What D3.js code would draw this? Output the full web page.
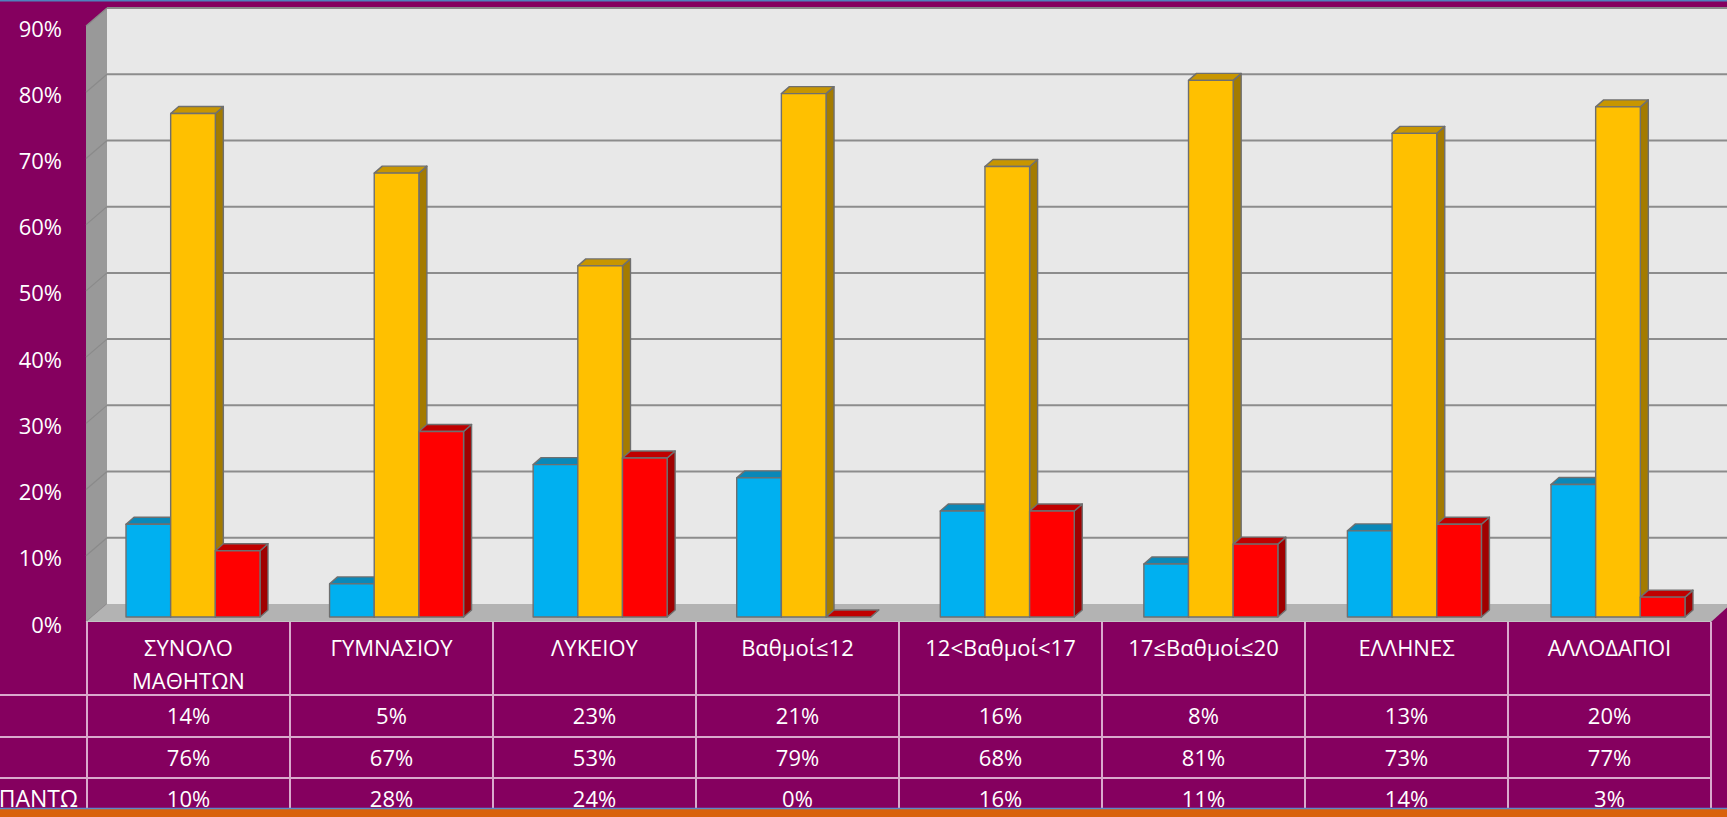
<!DOCTYPE html>
<html><head><meta charset="utf-8">
<script src="https://cdn.jsdelivr.net/npm/d3@7"></script>
<style>body{margin:0;background:#85005f;overflow:hidden}svg{display:block}</style>
</head><body><svg id="c" width="1727" height="817"></svg>
<script>
const categories = ["ΣΥΝΟΛΟ\nΜΑΘΗΤΩΝ","ΓΥΜΝΑΣΙΟΥ","ΛΥΚΕΙΟΥ","Βαθμοί≤12","12<Βαθμοί<17","17≤Βαθμοί≤20","ΕΛΛΗΝΕΣ","ΑΛΛΟΔΑΠΟΙ"];
const seriesKeys = ["s1","s2","s3"];
const seriesLabels = ["","","ΠΑΝΤΩ"];
const series1 = [14,5,23,21,16,8,13,20];
const series2 = [76,67,53,79,68,81,73,77];
const series3 = [10,28,24,0,16,11,14,3];
const yTicks = [0,10,20,30,40,50,60,70,80,90];

const seriesValues = [series1, series2, series3];
const colors = {
  s1:{front:"#00b0f0", top:"#0a88b8", side:"#0078a6"},
  s2:{front:"#ffc000", top:"#c89600", side:"#a47b00"},
  s3:{front:"#ff0000", top:"#c00000", side:"#a00000"}
};
const FONT = "'Open Sans','Noto Sans','DejaVu Sans',sans-serif";
const FS = "22px";
const svg = d3.select("#c");

// geometry
const backL = 107, sideL = 86, right = 1727;
const yBack = d3.scaleLinear().domain([0,90]).range([604,8]);
const yFront = d3.scaleLinear().domain([0,90]).range([622,26]);
const yBar = d3.scaleLinear().domain([0,90]).range([617,617-0.9*662.5]);
const barBase = 617, dx = 8, dy = 7;

// top strip
svg.append("line").attr("x1",0).attr("x2",right).attr("y1",0.75).attr("y2",0.75).attr("stroke","#4f81bd").attr("stroke-width",1.5);

// back wall
svg.append("rect").attr("x",backL).attr("y",yBack(90)).attr("width",right-backL).attr("height",yBack(0)-yBack(90)).attr("fill","#e8e8e8");
// side wall
svg.append("polygon").attr("points",[[sideL,yFront(90)],[backL,yBack(90)],[backL,yBack(0)],[sideL,yFront(0)]].map(p=>p.join(",")).join(" ")).attr("fill","#999999");
// side grid
svg.append("g").selectAll("line").data(yTicks).join("line")
  .attr("x1",sideL).attr("x2",backL).attr("y1",d=>yFront(d)).attr("y2",d=>yBack(d))
  .attr("stroke","#8a8a8a").attr("stroke-width",1.2);
// back grid
svg.append("g").selectAll("line").data(yTicks.filter(d=>d>0)).join("line")
  .attr("x1",backL).attr("x2",right).attr("y1",d=>yBack(d)).attr("y2",d=>yBack(d))
  .attr("stroke","#8c8c8c").attr("stroke-width",2);
// floor
svg.append("polygon").attr("points",[[backL,604],[right+4,604],[1711,622],[sideL,622]].map(p=>p.join(",")).join(" ")).attr("fill","#b3b3b3");
svg.append("line").attr("x1",sideL).attr("x2",1711).attr("y1",621.5).attr("y2",621.5).attr("stroke","#c4c4c4").attr("stroke-width",1);

// y axis labels
const yAxis = d3.axisLeft(yFront).tickValues(yTicks).tickFormat(d=>d+"%").tickSize(0).tickPadding(0);
const ya = svg.append("g").attr("transform","translate(62,3)").call(yAxis);
ya.select(".domain").remove();
ya.selectAll("text").attr("fill","#fff").style("font-family",FONT).style("font-size",FS);

// bars
const bandW = 134;
const xBars = d3.scaleBand().domain(categories).range([126, 126 + 7*203.57 + bandW]).paddingInner(1-bandW/203.57).paddingOuter(0);
const xSeries = d3.scaleBand().domain(seriesKeys).range([0, xBars.bandwidth()]);
const bw = xSeries.bandwidth();
const gBars = svg.append("g");
categories.forEach((c,ci)=>{
  seriesKeys.forEach((k,si)=>{
    const v = seriesValues[si][ci];
    const x = xBars(c)+xSeries(k), y = yBar(v);
    const col = colors[k];
    const g = gBars.append("g").attr("stroke","#6f6f6f").attr("stroke-width",1.4).attr("stroke-linejoin","round");
    g.append("polygon").attr("points",[[x+bw,y],[x+bw+dx,y-dy],[x+bw+dx,barBase-dy],[x+bw,barBase]].map(p=>p.join(",")).join(" ")).attr("fill",col.side);
    g.append("polygon").attr("points",[[x,y],[x+bw,y],[x+bw+dx,y-dy],[x+dx,y-dy]].map(p=>p.join(",")).join(" ")).attr("fill",col.top);
    g.append("rect").attr("x",x).attr("y",y).attr("width",bw).attr("height",barBase-y).attr("fill",col.front);
  });
});

// data table
const xTab = d3.scaleBand().domain(categories).range([87,1711]);
const rowLines = [695,737,778];
const rowCenters = [716,758,799];
const lineCol = "#d9a9cc";
const gT = svg.append("g");
// bottom strip
svg.append("rect").attr("x",0).attr("y",808).attr("width",right).attr("height",9).attr("fill","#d9620c");
svg.append("line").attr("x1",0).attr("x2",right).attr("y1",808.5).attr("y2",808.5).attr("stroke","#5b87c8").attr("stroke-width",1.5);
gT.selectAll("line.h").data(rowLines).join("line").attr("class","h")
  .attr("x1",0).attr("x2",1711).attr("y1",d=>d).attr("y2",d=>d).attr("stroke",lineCol).attr("stroke-width",2);
const vb = categories.map(c=>xTab(c)).concat([xTab(categories[categories.length-1])+xTab.bandwidth()]);
gT.selectAll("line.v").data(vb).join("line").attr("class","v")
  .attr("x1",d=>d).attr("x2",d=>d).attr("y1",622).attr("y2",817).attr("stroke",lineCol).attr("stroke-width",2);
// headers
categories.forEach(c=>{
  const t = gT.append("text").attr("x",xTab(c)+xTab.bandwidth()/2).attr("y",656)
    .attr("text-anchor","middle").attr("fill","#fff").style("font-family",FONT).style("font-size",FS);
  c.split("\n").forEach((ln,i)=>t.append("tspan").attr("x",xTab(c)+xTab.bandwidth()/2).attr("dy",i?33:0).text(ln));
});
// values
seriesValues.forEach((vals,si)=>{
  categories.forEach((c,ci)=>{
    gT.append("text").attr("x",xTab(c)+xTab.bandwidth()/2).attr("y",rowCenters[si]+8)
      .attr("text-anchor","middle").attr("fill","#fff").style("font-family",FONT).style("font-size",FS)
      .text(vals[ci]+"%");
  });
  if(seriesLabels[si]) gT.append("text").attr("x",78).attr("y",rowCenters[si]+8).attr("text-anchor","end")
      .attr("fill","#fff").style("font-family",FONT).style("font-size","23px").text(seriesLabels[si]);
});
</script></body></html>
